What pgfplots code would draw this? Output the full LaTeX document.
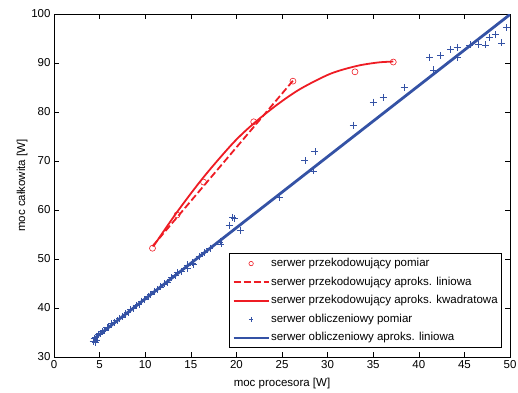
\documentclass[border=0pt]{standalone}
\usepackage{fontspec}
\setmainfont{Liberation Sans}
\usepackage{pgfplots}
\pgfplotsset{compat=1.18}
\definecolor{mred}{RGB}{238,28,36}
\definecolor{mblue}{RGB}{52,82,165}
\pgfplotsset{
  lineleg/.style={legend image code/.code={\draw[##1] (0pt,0pt) -- (35pt,0pt);}},
  markleg/.style={legend image code/.code={\draw[mark repeat=2,mark phase=2,##1,mark size=2.2pt] plot coordinates {(0pt,0pt) (17.5pt,0pt) (35pt,0pt)};}},
}
\begin{document}
\begin{tikzpicture}[x=1pt,y=1pt]
\useasboundingbox (-54,-35) rectangle (464,357);
\begin{axis}[
  at={(0,0)}, anchor=south west,
  scale only axis, width=456pt, height=343pt,
  xmin=0, xmax=50, ymin=30, ymax=100,
  xtick={0,5,...,50}, ytick={30,40,...,100},
  tick align=inside, major tick length=5pt,
  tick style={black, line width=0.5pt},
  axis line style={black, line width=0.6pt},
  /pgf/number format/assume math mode=true,
  tick label style={font=\fontsize{11.5pt}{13pt}\selectfont},
  xlabel={moc procesora [W]}, ylabel={moc całkowita [W]},
  label style={font=\fontsize{11.5pt}{13pt}\selectfont},
  xlabel style={yshift=-3pt}, ylabel style={yshift=-3pt},
  legend style={at={(0.9825,0.026)}, anchor=south east, draw=black, line width=0.6pt,
    font=\fontsize{11.5pt}{13pt}\selectfont, row sep=0pt, inner xsep=3pt, inner ysep=0.5pt,
    nodes={inner xsep=1pt, inner ysep=3.3pt, text height=9pt, text depth=3pt}},
  legend cell align=left,
  lineleg,
  clip=true,
]
% red measurements
\addplot[only marks, mark=o, mark size=3pt, mred, mark options={line width=0.6pt}, markleg]
  coordinates {(10.8,52.2) (13.5,59.0) (16.4,65.7) (21.9,78.0) (26.2,86.3) (33.0,88.2) (37.2,90.2)};
\addlegendentry{serwer przekodowujący pomiar}
% red linear fit
\addplot[mred, line width=1.8pt, dash pattern=on 7pt off 3pt, no marks]
  coordinates {(10.8,52.6) (26.3,86.6)};
\addlegendentry{serwer przekodowujący aproks. liniowa}
% red quadratic fit
\addplot[mred, line width=1.8pt, no marks, smooth]
  coordinates {(10.9,52.6) (13.5,59.6) (16.4,66.7) (19.6,73.6) (21.8,77.5) (24.4,81.4) (27.0,84.7) (30.3,87.8) (33.2,89.4) (35.5,90.1) (37.2,90.3)};
\addlegendentry{serwer przekodowujący aproks. kwadratowa}
% blue measurements
\addplot[only marks, mark=+, mark size=3.5pt, mblue, mark options={line width=0.6pt}, markleg]
  coordinates {
  (4.3,33.2) (4.4,33.8) (4.5,33.0) (4.6,34.1) (4.7,33.5) (4.9,34.6) (5.1,34.8) (5.3,35.2)
  (5.5,35.5) (5.8,36.0) (6.0,36.1) (6.3,36.8) (6.6,37.1) (6.9,37.4) (7.2,37.9) (7.5,38.2)
  (7.8,38.8) (8.1,39.1) (8.4,39.7) (8.7,40.0) (9.0,40.5) (9.3,40.8) (9.6,41.4) (9.9,41.7)
  (10.3,42.4) (10.6,42.7) (11.0,43.4) (11.3,43.8) (11.7,44.3) (12.1,44.9) (12.4,45.2)
  (12.9,46.2) (13.3,46.7) (13.5,47.2) (14.0,47.5) (14.6,48.1) (14.6,48.8) (15.2,49.2) (15.3,48.9)
  (15.9,50.5) (16.5,51.3) (17.1,52.2) (18.2,53.5) (18.3,53.1) (19.2,56.9) (19.6,58.5) (19.8,58.3)
  (20.4,55.9) (24.7,62.6) (27.5,70.1) (28.4,68.0) (28.6,71.9) (32.8,77.3) (35.0,82.0)
  (36.1,83.0) (38.4,85.0) (41.2,91.2) (41.6,88.6) (42.4,91.5) (43.5,92.8) (44.2,93.2)
  (44.2,91.1) (45.6,93.7) (46.5,93.8) (47.3,93.7) (47.7,95.2) (48.4,95.8) (49.1,94.1) (49.6,97.2)};
\addlegendentry{serwer obliczeniowy pomiar}
% blue linear fit
\addplot[mblue, line width=2.8pt, no marks]
  coordinates {(4.3,33.6) (50,99.9)};
\addlegendentry{serwer obliczeniowy aproks. liniowa}
\end{axis}
\end{tikzpicture}
\end{document}
